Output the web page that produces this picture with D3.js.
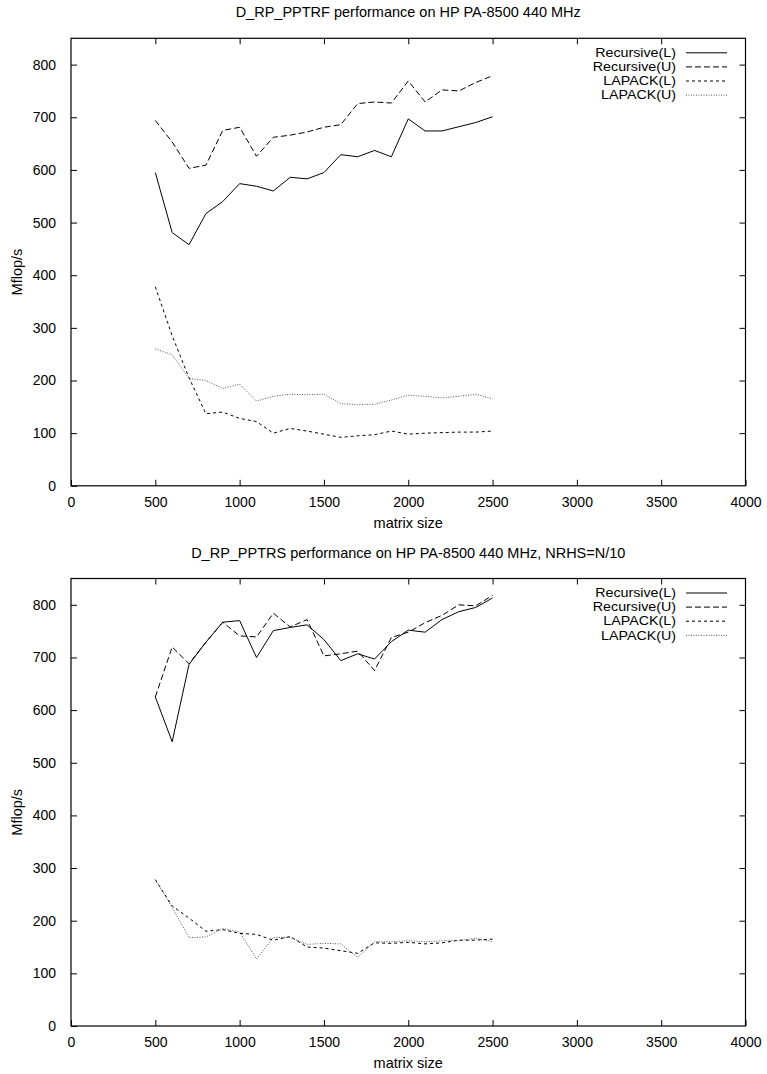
<!DOCTYPE html>
<html>
<head>
  <script type="text/javascript" src="https://d3js.org/d3.v7.min.js"></script>
  <style>
    body { margin: 0; background: #fff; }
    text { font-family: "Liberation Sans", Arial, Helvetica, sans-serif; fill: #000; }
  </style>
</head>
<body>
<div id="viz"></div>
<script type="text/javascript">

// matrix sizes shared by every series
var matrixSize = [500, 600, 700, 800, 900, 1000, 1100, 1200, 1300, 1400, 1500,
                  1600, 1700, 1800, 1900, 2000, 2100, 2200, 2300, 2400, 2500];

// D_RP_PPTRF
var trfRecL = [595, 481, 458, 517, 540, 574, 569, 560, 586, 583, 595,
               629, 625, 637, 625, 697, 674, 674, 682, 690, 701];
var trfRecU = [694, 653, 603, 609, 675, 681, 626, 662, 666, 672, 681,
               686, 726, 729, 727, 769, 729, 752, 750, 766, 779];
var trfLapL = [378, 285, 205, 137, 140, 128, 122, 100, 109, 104, 98,
               92, 95, 97, 104, 98, 100, 101, 102, 102, 104];
var trfLapU = [260, 249, 204, 200, 185, 193, 161, 170, 174, 173, 174,
               156, 154, 155, 163, 172, 170, 167, 170, 174, 165];

// D_RP_PPTRS
var trsRecL = [625, 540, 687, 729, 767, 770, 700, 751, 757, 762, 734,
               694, 707, 697, 730, 752, 748, 772, 787, 795, 813];
var trsRecU = [625, 720, 688, 729, 767, 741, 739, 784, 758, 772, 703,
               707, 712, 675, 738, 748, 766, 780, 800, 798, 818];
var trsLapL = [278, 228, 205, 180, 183, 176, 174, 163, 170, 150, 148,
               143, 138, 158, 157, 159, 156, 158, 163, 163, 165];
var trsLapU = [278, 225, 168, 169, 185, 179, 127, 168, 168, 155, 157,
               156, 130, 160, 160, 162, 160, 162, 162, 167, 160];

var seriesNames = ["Recursive(L)", "Recursive(U)", "LAPACK(L)", "LAPACK(U)"];
var xTicks = [0, 500, 1000, 1500, 2000, 2500, 3000, 3500, 4000];
var yTicks = [0, 100, 200, 300, 400, 500, 600, 700, 800];

// line styles per series (solid, dashed, short dash, dotted)
var dashes = [null, "6,3", "3,3", "1,1.5"];
var strokes = ["#000", "#000", "#000", "#555"];

var svg = d3.select("#viz").append("svg")
    .attr("width", 767)
    .attr("height", 1074);

function drawPlot(top, title, data) {
  var left = 71, right = 745.5, plotTop = top, plotBottom = top + 447.5;

  var x = d3.scaleLinear().domain([0, 4000]).range([left, right]);
  var y = d3.scaleLinear().domain([0, 850]).range([plotBottom, plotTop]);

  var g = svg.append("g");

  g.append("text")
      .attr("x", (left + right) / 2)
      .attr("y", plotTop - 21)
      .attr("text-anchor", "middle")
      .style("font-size", "14.5px")
      .text(title);

  // frame
  g.append("rect")
      .attr("x", left).attr("y", plotTop)
      .attr("width", right - left).attr("height", plotBottom - plotTop)
      .attr("fill", "none").attr("stroke", "#000").attr("stroke-width", 1.2);

  // axes with inward ticks, mirrored
  var fmt = d3.format("d");
  var bottomAxis = d3.axisBottom(x).tickValues(xTicks).tickFormat(fmt).tickSizeInner(-6).tickSizeOuter(0).tickPadding(11);
  var topAxis = d3.axisTop(x).tickValues(xTicks.slice(1, -1)).tickSizeInner(-6).tickSizeOuter(0).tickFormat("");
  var leftAxis = d3.axisLeft(y).tickValues(yTicks).tickFormat(fmt).tickSizeInner(-6).tickSizeOuter(0).tickPadding(15);
  var rightAxis = d3.axisRight(y).tickValues(yTicks.slice(1)).tickSizeInner(-6).tickSizeOuter(0).tickFormat("");

  [[bottomAxis, "translate(0," + plotBottom + ")"],
   [topAxis, "translate(0," + plotTop + ")"],
   [leftAxis, "translate(" + left + ",0)"],
   [rightAxis, "translate(" + right + ",0)"]].forEach(function(a) {
    var ax = g.append("g").attr("transform", a[1]).call(a[0]);
    ax.select(".domain").remove();
    ax.selectAll("line").attr("stroke", "#000");
    ax.selectAll("text").style("font-size", "14px").style("font-family", "'Liberation Sans', Arial, sans-serif");
  });

  g.append("text")
      .attr("x", (left + right) / 2)
      .attr("y", plotBottom + 42)
      .attr("text-anchor", "middle")
      .style("font-size", "14.5px")
      .text("matrix size");

  g.append("text")
      .attr("transform", "translate(22," + ((plotTop + plotBottom) / 2 + 10) + ") rotate(-90)")
      .attr("text-anchor", "middle")
      .style("font-size", "14.5px")
      .text("Mflop/s");

  var line = d3.line()
      .x(function(d, i) { return x(matrixSize[i]); })
      .y(function(d) { return y(d); });

  data.forEach(function(s, k) {
    g.append("path")
        .attr("d", line(s))
        .attr("fill", "none")
        .attr("stroke", strokes[k])
        .attr("stroke-width", 1)
        .attr("stroke-dasharray", dashes[k]);

    // legend rows: smaller type, stretched to the reference width so rows don't collide
    var ly = plotTop + 14.5 + k * 14.1;
    var t = g.append("text")
        .attr("x", 676)
        .attr("y", ly)
        .attr("dy", "0.35em")
        .attr("text-anchor", "end")
        .style("font-size", "12.2px")
        .text(seriesNames[k]);
    var w = t.node().getComputedTextLength();
    t.attr("textLength", w * 1.17).attr("lengthAdjust", "spacingAndGlyphs");

    g.append("line")
        .attr("x1", 686).attr("x2", 727)
        .attr("y1", ly).attr("y2", ly)
        .attr("stroke", strokes[k])
        .attr("stroke-width", 1)
        .attr("stroke-dasharray", dashes[k]);
  });
}

drawPlot(38.3, "D_RP_PPTRF performance on HP PA-8500 440 MHz", [trfRecL, trfRecU, trfLapL, trfLapU]);
drawPlot(578.5, "D_RP_PPTRS performance on HP PA-8500 440 MHz, NRHS=N/10", [trsRecL, trsRecU, trsLapL, trsLapU]);

</script>
</body>
</html>
